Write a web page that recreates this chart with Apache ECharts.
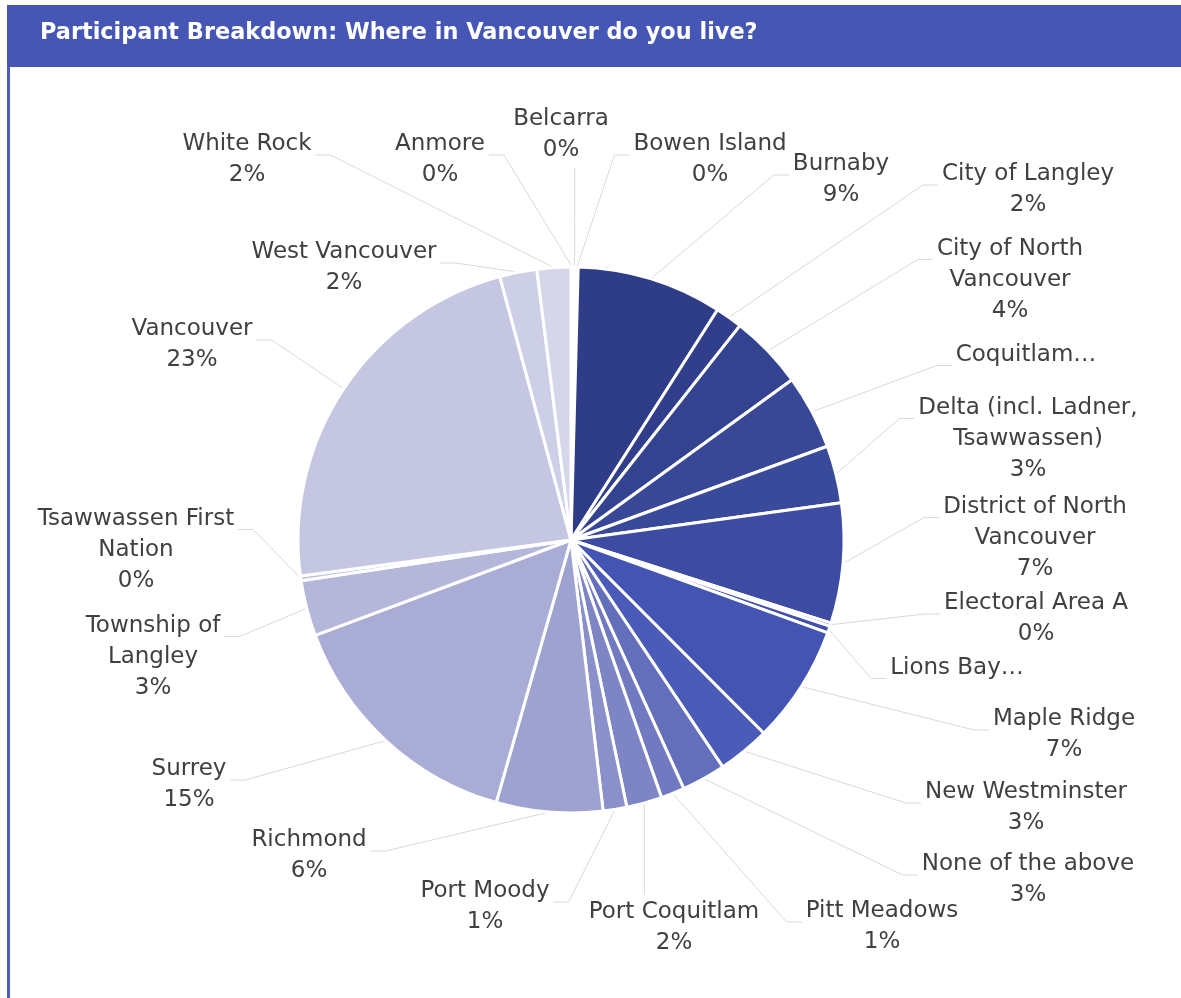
<!DOCTYPE html>
<html><head><meta charset="utf-8">
<script src="https://cdn.jsdelivr.net/npm/echarts@6/dist/echarts.min.js"></script>
<style>html,body{margin:0;padding:0;background:#fff}#c{width:1181px;height:998px}</style>
</head><body><div id="c"></div>
<script>
const titleText = 'Participant Breakdown: Where in Vancouver do you live?';
const categories = ['Anmore','Belcarra','Bowen Island','Burnaby','City of Langley','City of North Vancouver','Coquitlam','Delta (incl. Ladner, Tsawwassen)','District of North Vancouver','Electoral Area A','Lions Bay','Maple Ridge','New Westminster','None of the above','Pitt Meadows','Port Coquitlam','Port Moody','Richmond','Surrey','Township of Langley','Tsawwassen First Nation','Vancouver','West Vancouver','White Rock'];
const values = [0.14,0.14,0.14,8.6,1.6,4.4,4.4,3.4,7.1,0.2,0.4,7.0,3.1,2.6,1.4,2.1,1.4,6.3,14.9,3.3,0.28,22.9,2.2,2.0];
const labelText = ['Anmore','Belcarra','Bowen Island','Burnaby','City of Langley','City of North\nVancouver','Coquitlam…','Delta (incl. Ladner,\nTsawwassen)','District of North\nVancouver','Electoral Area A','Lions Bay…','Maple Ridge','New Westminster','None of the above','Pitt Meadows','Port Coquitlam','Port Moody','Richmond','Surrey','Township of\nLangley','Tsawwassen First\nNation','Vancouver','West Vancouver','White Rock'];

// styling / layout (not data)
const colors = ['#2b3880','#2c3981','#2d3a83','#2f3c87','#313e8b','#34438f','#384796','#3a4a9b','#3d4ca2','#404fa8','#4151ad','#4354b3','#4a5bb8','#646fbb','#7179c0','#7e85c5','#8a90ca','#9ea2d0','#a9acd5','#b4b7da','#bdc0de','#c5c7e2','#cdcfe6','#d5d6ea'];
const labelCenters = [[440,160],[561,135],[710,160],[841,180],[1028,190],[1010,280],[1026,355],[1028,439],[1035,538],[1036,619],[957,668],[1064,735],[1026,808],[1028,880],[882,927],[674,928],[485,907],[309,856],[189,785],[153,657],[136,550],[192,345],[344,268],[247,160]];

const chart = echarts.init(document.getElementById('c'));
chart.setOption({
  animation: false,
  graphic: [
    {type:'rect', shape:{x:7,y:5,width:1174,height:62}, style:{fill:'#4556b5'}},
    {type:'rect', shape:{x:7,y:67,width:3,height:931}, style:{fill:'#4a5bc4'}},
    {type:'text', x:40, y:33, style:{text:titleText, fill:'#ffffff', font:'bold 22.4px "DejaVu Sans"', verticalAlign:'middle', align:'left'}}
  ],
  series: [{
    type: 'pie',
    center: [571, 540],
    radius: 273,
    startAngle: 90,
    clockwise: true,
    avoidLabelOverlap: false,
    data: categories.map((n, i) => ({name: n, value: values[i], itemStyle: {color: colors[i]}})),
    itemStyle: {borderColor: '#fff', borderWidth: 3},
    label: {
      show: true, position: 'outside',
      formatter: p => {
        const t = labelText[p.dataIndex];
        return t.endsWith('…') ? t : t + '\n' + Math.round(p.value) + '%';
      },
      fontFamily: 'DejaVu Sans', fontSize: 23, color: '#404040', lineHeight: 31, align: 'center'
    },
    labelLine: {show: true, length: 20, length2: 15, lineStyle: {color: '#d9d9d9', width: 1}},
    labelLayout: function (p) {
      const i = p.dataIndex;
      const x = labelCenters[i][0], y = labelCenters[i][1];
      const w = p.labelRect.width, h = p.labelRect.height;
      const a = p.labelLinePoints ? p.labelLinePoints[0] : [571, 540];
      const left = x - w / 2, right = x + w / 2, top = y - h / 2, bottom = y + h / 2;
      let pts;
      if (a[0] >= left && a[0] <= right) {
        const ey = a[1] < top ? top - 2 : bottom + 2;
        pts = [a, [a[0], (a[1] + ey) / 2], [a[0], ey]];
      } else {
        const ay = top + 26;
        const ex = a[0] < left ? left - 4 : right + 4;
        const sx = a[0] < left ? ex - 15 : ex + 15;
        pts = [a, [sx, ay], [ex, ay]];
      }
      return {x: x, y: y, align: 'center', verticalAlign: 'middle', labelLinePoints: pts, hideOverlap: false, moveOverlap: null};
    }
  }]
});
</script>
</body></html>
